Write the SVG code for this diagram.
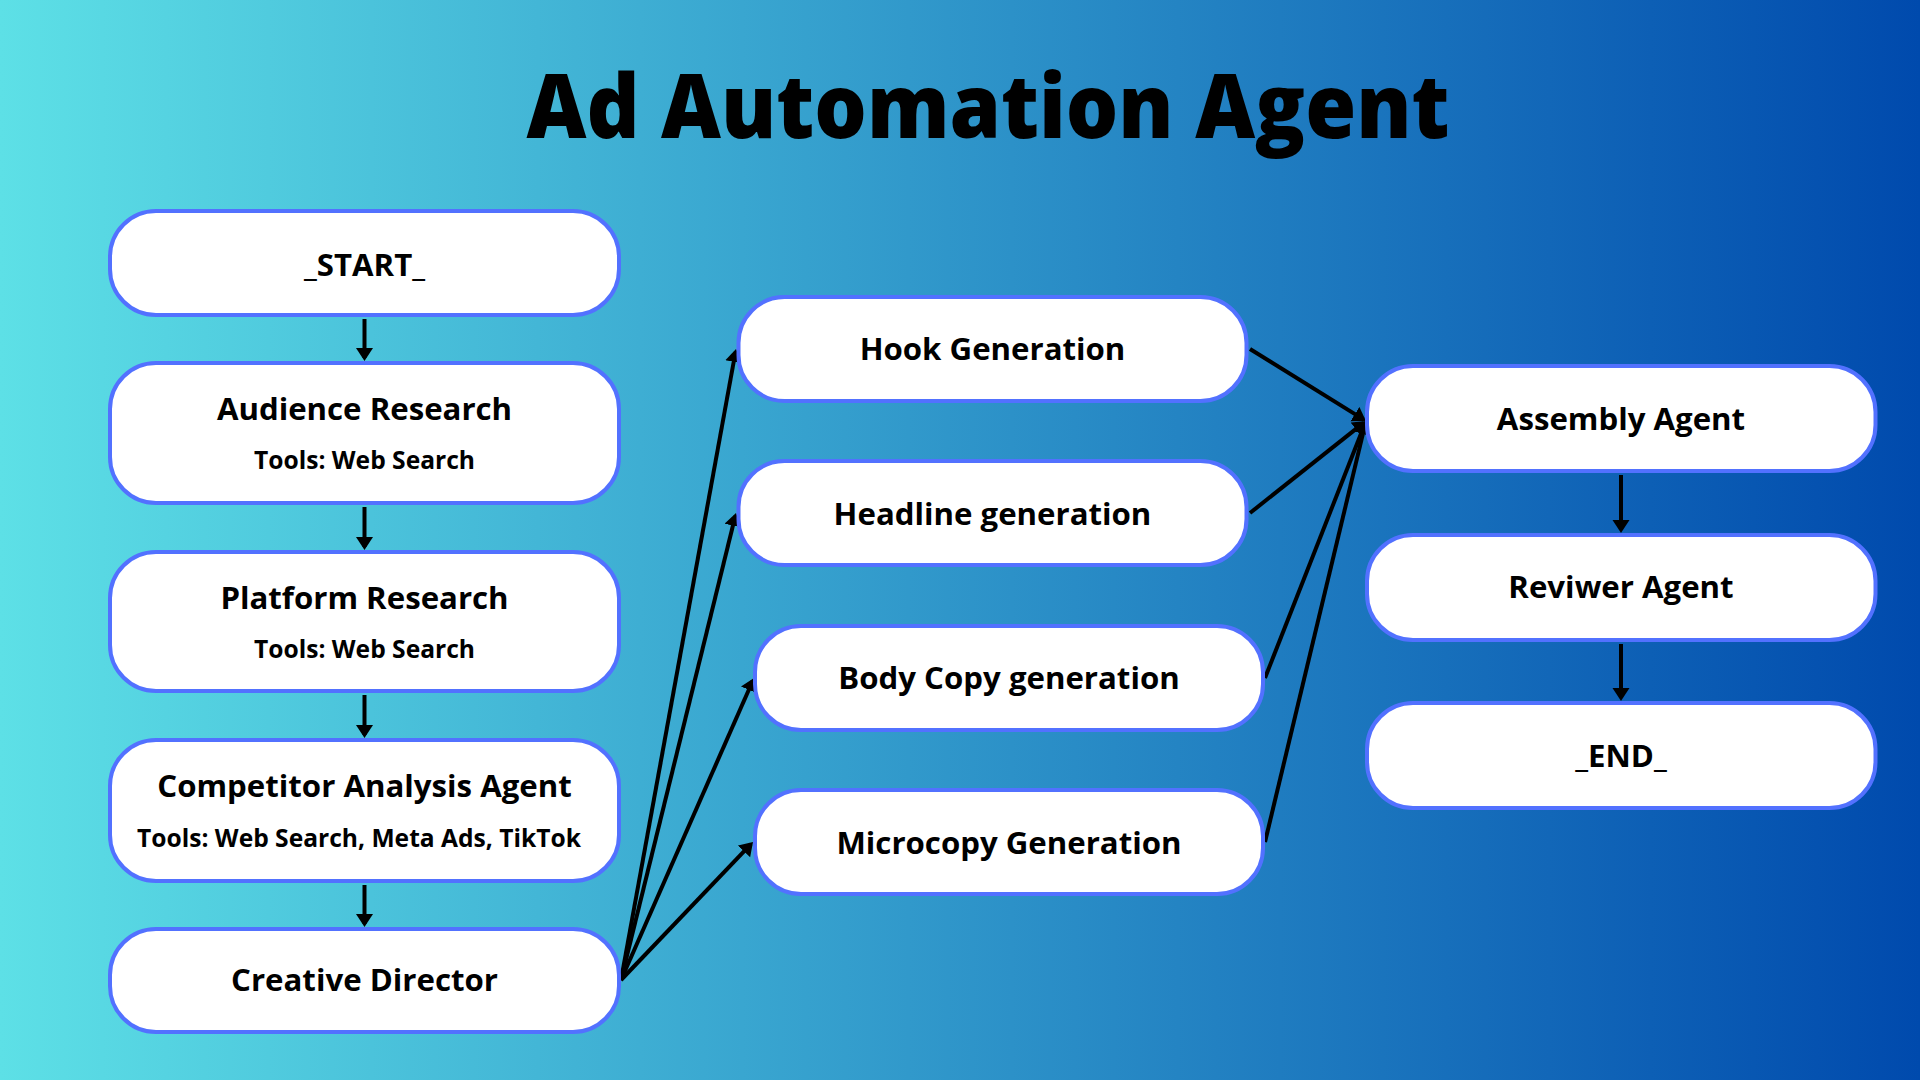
<svg xmlns="http://www.w3.org/2000/svg" width="1920" height="1080" viewBox="0 0 1920 1080">
  <defs>
    <linearGradient id="bg" x1="0" y1="0" x2="1" y2="0">
      <stop offset="0" stop-color="#5de0e6"/>
      <stop offset="1" stop-color="#004aad"/>
    </linearGradient>
    <marker id="arrow" markerUnits="userSpaceOnUse" markerWidth="14" markerHeight="18" refX="10" refY="8.5" orient="auto">
      <path d="M0,0 L13,8.5 L0,17 z" fill="#000"/>
    </marker>
    <style>
      .node rect { fill: #ffffff; stroke: #5271ff; stroke-width: 4; }
      .label { font-family: "Open Sans", "Liberation Sans", sans-serif; font-weight: 700; font-size: 31.2px; fill: #000; text-anchor: middle; }
      .sub { font-family: "Open Sans", "Liberation Sans", sans-serif; font-weight: 700; font-size: 24.6px; fill: #000; text-anchor: middle; }
      .title { font-family: "Open Sans", "Liberation Sans", sans-serif; font-weight: 800; font-size: 88px; fill: #000; text-anchor: middle; }
      .conn line { stroke: #000; stroke-width: 4; marker-end: url(#arrow); }
    </style>
  </defs>
  <rect x="0" y="0" width="1920" height="1080" fill="url(#bg)"/>
  <text class="title" x="988" y="138" textLength="923" lengthAdjust="spacingAndGlyphs">Ad Automation Agent</text>

  <g id="connectors" class="conn">
    <line x1="364.5" y1="319" x2="364.5" y2="358"/>
    <line x1="364.5" y1="507" x2="364.5" y2="547"/>
    <line x1="364.5" y1="695" x2="364.5" y2="735"/>
    <line x1="364.5" y1="885" x2="364.5" y2="924"/>
    <line x1="621" y1="980" x2="735.5" y2="352"/>
    <line x1="621" y1="980" x2="735.3" y2="515.9"/>
    <line x1="621" y1="980" x2="752.8" y2="680.7"/>
    <line x1="621" y1="980" x2="750.9" y2="844.2"/>
    <line x1="1250" y1="349" x2="1363.4" y2="419.4"/>
    <line x1="1250" y1="513" x2="1363.6" y2="422.9"/>
    <line x1="1265" y1="678" x2="1364.9" y2="423.8"/>
    <line x1="1265" y1="842" x2="1365.3" y2="423.9"/>
    <line x1="1621" y1="475" x2="1621" y2="530"/>
    <line x1="1621" y1="644" x2="1621" y2="698"/>
  </g>

  <g id="start" class="node">
    <rect x="110" y="211" width="509" height="104" rx="46"/>
    <text class="label" x="364.5" y="276">_START_</text>
  </g>
  <g id="audience-research" class="node">
    <rect x="110" y="363" width="509" height="140" rx="46"/>
    <text class="label" x="364.5" y="420">Audience Research</text>
    <text class="sub" x="364.5" y="469">Tools: Web Search</text>
  </g>
  <g id="platform-research" class="node">
    <rect x="110" y="552" width="509" height="139" rx="46"/>
    <text class="label" x="364.5" y="609">Platform Research</text>
    <text class="sub" x="364.5" y="658">Tools: Web Search</text>
  </g>
  <g id="competitor-analysis" class="node">
    <rect x="110" y="740" width="509" height="141" rx="46"/>
    <text class="label" x="364.5" y="797">Competitor Analysis Agent</text>
    <text class="sub" x="359" y="847">Tools: Web Search, Meta Ads, TikTok</text>
  </g>
  <g id="creative-director" class="node">
    <rect x="110" y="929" width="509" height="103" rx="46"/>
    <text class="label" x="364.5" y="991">Creative Director</text>
  </g>

  <g id="hook-generation" class="node">
    <rect x="738.5" y="297" width="508" height="104" rx="46"/>
    <text class="label" x="992.5" y="360">Hook Generation</text>
  </g>
  <g id="headline-generation" class="node">
    <rect x="738.5" y="461" width="508" height="104" rx="46"/>
    <text class="label" x="992.5" y="525">Headline generation</text>
  </g>
  <g id="body-copy-generation" class="node">
    <rect x="755" y="626" width="508" height="104" rx="46"/>
    <text class="label" x="1009" y="689">Body Copy generation</text>
  </g>
  <g id="microcopy-generation" class="node">
    <rect x="755" y="790" width="508" height="104" rx="46"/>
    <text class="label" x="1009" y="854">Microcopy Generation</text>
  </g>

  <g id="assembly-agent" class="node">
    <rect x="1367" y="366" width="508.5" height="105" rx="46"/>
    <text class="label" x="1621" y="430">Assembly Agent</text>
  </g>
  <g id="reviwer-agent" class="node">
    <rect x="1367" y="535" width="508.5" height="105" rx="46"/>
    <text class="label" x="1621" y="598">Reviwer Agent</text>
  </g>
  <g id="end" class="node">
    <rect x="1367" y="703" width="508.5" height="105" rx="46"/>
    <text class="label" x="1621" y="767">_END_</text>
  </g>
</svg>
